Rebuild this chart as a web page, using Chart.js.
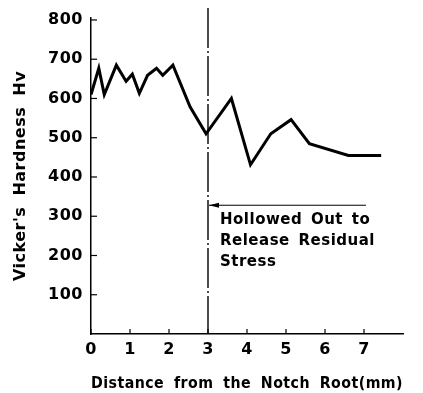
<!DOCTYPE html>
<html><head><meta charset="utf-8">
<script src="https://cdn.jsdelivr.net/npm/chart.js@4/dist/chart.umd.min.js"></script>
<style>html,body{margin:0;padding:0;background:#fff}#wrap{width:423px;height:393px}</style>
</head><body><div id="wrap"><canvas id="c"></canvas></div>
<script>
const distance = [0, 0.2, 0.34, 0.65, 0.9, 1.06, 1.24, 1.45, 1.68, 1.84, 2.1, 2.54, 2.95, 3.6, 4.09, 4.61, 5.13, 5.6, 6.6, 7.44];
const hardness = [610, 677, 610, 685, 644, 662, 613, 659, 677, 659, 685, 579, 510, 600, 431, 510, 546, 485, 455, 455];
const xTicks = [0, 1, 2, 3, 4, 5, 6, 7];
const yTicks = [100, 200, 300, 400, 500, 600, 700, 800];
const markerX = 3;
const arrowFromX = 7.05;
const arrowY = 328;
const noteLines = ["Hollowed Out to", "Release Residual", "Stress"];
const noteYs = [289, 236, 183];

const FONT = "'DejaVu Sans', 'Liberation Sans', sans-serif";
const SPACING = '0.5px';
const WORDGAP = '5px';

function setSpacing(ctx) { ctx.letterSpacing = SPACING; ctx.wordSpacing = WORDGAP; }

const spacingPlugin = {
  id: 'spacing',
  beforeLayout(chart) { setSpacing(chart.ctx); },
  beforeDraw(chart) { setSpacing(chart.ctx); }
};

const overlay = {
  id: 'overlay',
  afterDatasetsDraw(chart) {
    const {ctx, scales:{x, y}} = chart;
    ctx.save();
    ctx.strokeStyle = '#000'; ctx.lineWidth = 1.2;
    xTicks.forEach(v => { const px = x.getPixelForValue(v); ctx.beginPath(); ctx.moveTo(px, y.bottom); ctx.lineTo(px, y.bottom - 5); ctx.stroke(); });
    yTicks.forEach(v => { const py = y.getPixelForValue(v); ctx.beginPath(); ctx.moveTo(x.left, py); ctx.lineTo(x.left + 6, py); ctx.stroke(); });
    const mx = x.getPixelForValue(markerX);
    ctx.lineWidth = 1.4; ctx.setLineDash([40, 3, 2, 3]);
    ctx.beginPath(); ctx.moveTo(mx, 8); ctx.lineTo(mx, y.bottom); ctx.stroke();
    ctx.setLineDash([]);
    const ay = y.getPixelForValue(arrowY);
    const ax1 = x.getPixelForValue(arrowFromX);
    ctx.lineWidth = 1;
    ctx.beginPath(); ctx.moveTo(ax1, ay); ctx.lineTo(mx + 1, ay); ctx.stroke();
    ctx.fillStyle = '#000';
    ctx.beginPath(); ctx.moveTo(mx + 1, ay); ctx.lineTo(mx + 11, ay - 2.5); ctx.lineTo(mx + 11, ay + 2.5); ctx.closePath(); ctx.fill();
    ctx.font = "bold 15px " + FONT;
    ctx.letterSpacing = SPACING; ctx.wordSpacing = '3px';
    ctx.textBaseline = 'middle'; ctx.textAlign = 'left';
    noteLines.forEach((t, i) => ctx.fillText(t, mx + 12, y.getPixelForValue(noteYs[i])));
    ctx.restore();
  }
};

new Chart(document.getElementById('c'), {
  type: 'line',
  data: { datasets: [{ data: distance.map((d, i) => ({x: d, y: hardness[i]})), borderColor: '#000', borderWidth: 3, pointRadius: 0, tension: 0, borderJoinStyle: 'miter' }] },
  options: {
    responsive: true, maintainAspectRatio: false, animation: false,
    layout: { padding: { top: 18, right: 20, left: 0, bottom: 0 } },
    plugins: { legend: { display: false }, tooltip: { enabled: false } },
    scales: {
      x: {
        type: 'linear', min: 0, max: 8,
        afterBuildTicks: s => { s.ticks = xTicks.map(v => ({value: v})); },
        grid: { display: false, drawTicks: false },
        border: { display: true, color: '#000', width: 1.5 },
        ticks: { color: '#000', padding: 6, font: { family: FONT, size: 16, weight: 'bold' } },
        title: { display: true, text: 'Distance from the Notch Root(mm)', color: '#000', padding: { top: 0, bottom: 0 }, font: { family: FONT, size: 16, weight: 'bold' } },
        afterFit: s => { s.height = 59; }
      },
      y: {
        type: 'linear', min: 0, max: 805,
        afterBuildTicks: s => { s.ticks = yTicks.map(v => ({value: v})); },
        grid: { display: false, drawTicks: false },
        border: { display: true, color: '#000', width: 1.5 },
        ticks: { color: '#000', padding: 8, font: { family: FONT, size: 16, weight: 'bold' } },
        title: { display: true, text: "Vicker's Hardness Hv", color: '#000', padding: { top: 11, bottom: 0 }, font: { family: FONT, size: 16, weight: 'bold' } },
        afterFit: s => { s.width = 91; }
      }
    }
  },
  plugins: [spacingPlugin, overlay]
});
</script></body></html>
